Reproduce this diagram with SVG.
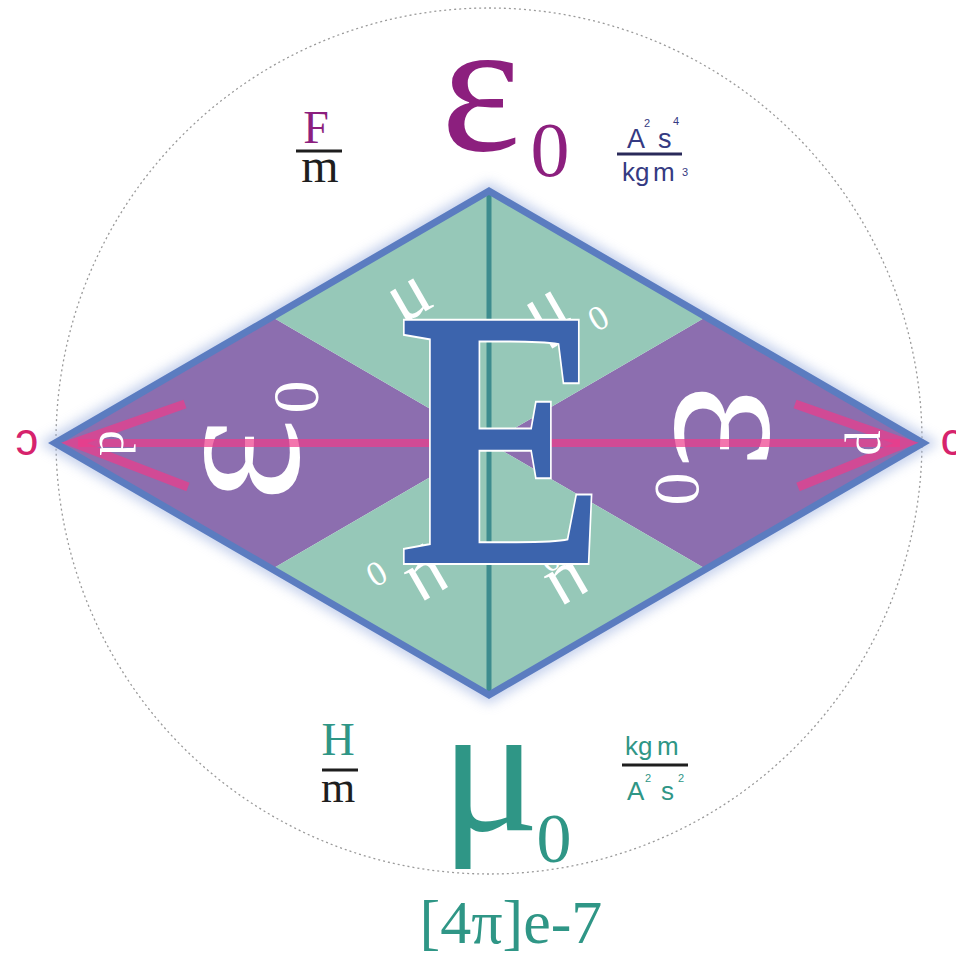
<svg xmlns="http://www.w3.org/2000/svg" width="956" height="955" viewBox="0 0 956 955">
<defs>
<style>
.serif{font-family:"Liberation Serif","DejaVu Serif",serif}
.sans{font-family:"Liberation Sans","Open Sans",sans-serif}
.wh{fill:#ffffff}
.mag{fill:#8c1f7e}
.teal{fill:#2f9686}
.navy{fill:#353a82}
.pinkc{fill:#d6226c}
.blk{fill:#1e1e1e}
.bar{stroke:#1e1e1e;stroke-width:3}
.arrow{stroke:#ee3a8a;stroke-opacity:0.7;fill:none}
</style>
<filter id="glow" x="-10%" y="-10%" width="120%" height="120%"><feGaussianBlur stdDeviation="6"/></filter>
</defs>
<rect width="956" height="955" fill="#ffffff"/>
<g id="circle"><circle cx="489" cy="441" r="433" fill="none" stroke="#9a9a9a" stroke-width="1.3" stroke-dasharray="2 3"/></g>
<g id="diamond">
<polygon points="55,443 489,191 923,443 489,695" fill="none" stroke="#9fb2e0" stroke-width="16" opacity="0.6" filter="url(#glow)"/>
<polygon points="55,443 272,317 489,443 272,569" fill="#8c6eaf"/>
<polygon points="923,443 706,317 489,443 706,569" fill="#8c6eaf"/>
<polygon points="489,191 706,317 489,443 272,317" fill="#96c8b8"/>
<polygon points="489,695 706,569 489,443 272,569" fill="#96c8b8"/>
<line x1="489" y1="191" x2="489" y2="695" stroke="#3d8c8e" stroke-width="5"/>
<polygon points="55,443 489,191 923,443 489,695" fill="none" stroke="#5b7cc0" stroke-width="7" stroke-linejoin="miter"/>
</g>
<g id="mu-inner" class="serif wh">
<g transform="translate(415,307) rotate(-30)"><text x="0" y="9" font-size="75" text-anchor="middle">μ</text></g>
<g transform="translate(430,330) rotate(-30)"><text x="0" y="12" font-size="35" text-anchor="middle">0</text></g>
<g transform="translate(552,320) rotate(-30)"><text x="0" y="9" font-size="75" text-anchor="middle">μ</text><text x="41" y="33" font-size="35" text-anchor="middle">0</text></g>
<g transform="translate(423,572) rotate(150)"><text x="0" y="9" font-size="75" text-anchor="middle">μ</text><text x="41" y="33" font-size="35" text-anchor="middle">0</text></g>
<g transform="translate(563,576) rotate(150)"><text x="0" y="9" font-size="75" text-anchor="middle">μ</text></g>
<g transform="translate(550,560) rotate(150)"><text x="0" y="12" font-size="35" text-anchor="middle">0</text></g>
</g>
<g id="eps-inner" class="serif wh">
<g transform="translate(252,460) rotate(-90)"><text x="0" y="46" font-size="200" text-anchor="middle">ε</text><text x="63" y="66" font-size="66" text-anchor="middle">0</text></g>
<g transform="translate(722,426) rotate(90)"><text x="0" y="46" font-size="200" text-anchor="middle">ε</text><text x="63" y="66" font-size="66" text-anchor="middle">0</text></g>
</g>
<g id="connectors">
<line class="arrow" x1="78" y1="443" x2="900" y2="443" stroke-width="8"/>
<polyline class="arrow" points="185,404 74,443 188,487" stroke-width="9"/>
<polyline class="arrow" points="795,404 906,443 798,487" stroke-width="9"/>
</g>
<g id="d-labels" class="serif wh">
<g transform="translate(117,443) rotate(90)"><text x="0" y="17" font-size="50" text-anchor="middle">d</text></g>
<g transform="translate(863,443) rotate(-90)"><text x="0" y="17" font-size="50" text-anchor="middle">d</text></g>
</g>
<g id="c-labels" class="sans pinkc">
<g transform="translate(27,442) rotate(180)"><text x="0" y="12" font-size="46" text-anchor="middle">c</text></g>
<text x="952" y="455" font-size="46" text-anchor="middle">c</text>
</g>
<g id="E">
<g transform="translate(503,563) scale(0.84,1)"><text class="serif" x="0" y="0" font-size="370" font-weight="bold" text-anchor="middle" fill="#3c64ad" stroke="#ffffff" stroke-width="4" paint-order="stroke">E</text></g>
</g>
<g id="epsilon0" class="serif mag">
<text x="481" y="150" font-size="190" text-anchor="middle">ε</text>
<text x="550" y="176" font-size="78" text-anchor="middle">0</text>
</g>
<g id="F-per-m" class="serif">
<text x="316" y="143" font-size="46" text-anchor="middle" class="mag">F</text>
<line class="bar" x1="296" y1="151" x2="342" y2="151"/>
<text x="320" y="182" font-size="48" text-anchor="middle" class="blk">m</text>
</g>
<g id="units-eps" class="sans navy">
<text x="627" y="148" font-size="27">A</text>
<text x="644" y="127" font-size="11">2</text>
<text x="658" y="148" font-size="27">s</text>
<text x="673" y="125" font-size="11">4</text>
<line x1="617" y1="154" x2="682" y2="154" stroke="#2a2a5a" stroke-width="3"/>
<text x="622" y="181" font-size="26">kg</text>
<text x="653" y="181" font-size="26">m</text>
<text x="682" y="176" font-size="11">3</text>
</g>
<g id="mu0" class="serif teal">
<text x="490" y="830" font-size="185" text-anchor="middle">μ</text>
<text x="554" y="862" font-size="70" text-anchor="middle">0</text>
<text x="511" y="943" font-size="62" text-anchor="middle">[4π]e-7</text>
</g>
<g id="H-per-m" class="serif">
<text x="338" y="755" font-size="46" text-anchor="middle" class="teal">H</text>
<line class="bar" x1="322" y1="770" x2="358" y2="770"/>
<text x="338" y="802" font-size="44" text-anchor="middle" class="blk">m</text>
</g>
<g id="units-mu" class="sans teal">
<text x="625" y="755" font-size="26">kg</text>
<text x="657" y="755" font-size="26">m</text>
<line x1="622" y1="765" x2="688" y2="765" stroke="#1e1e1e" stroke-width="3"/>
<text x="627" y="800" font-size="26">A</text>
<text x="645" y="782" font-size="11">2</text>
<text x="661" y="800" font-size="26">s</text>
<text x="678" y="782" font-size="11">2</text>
</g>
</svg>
